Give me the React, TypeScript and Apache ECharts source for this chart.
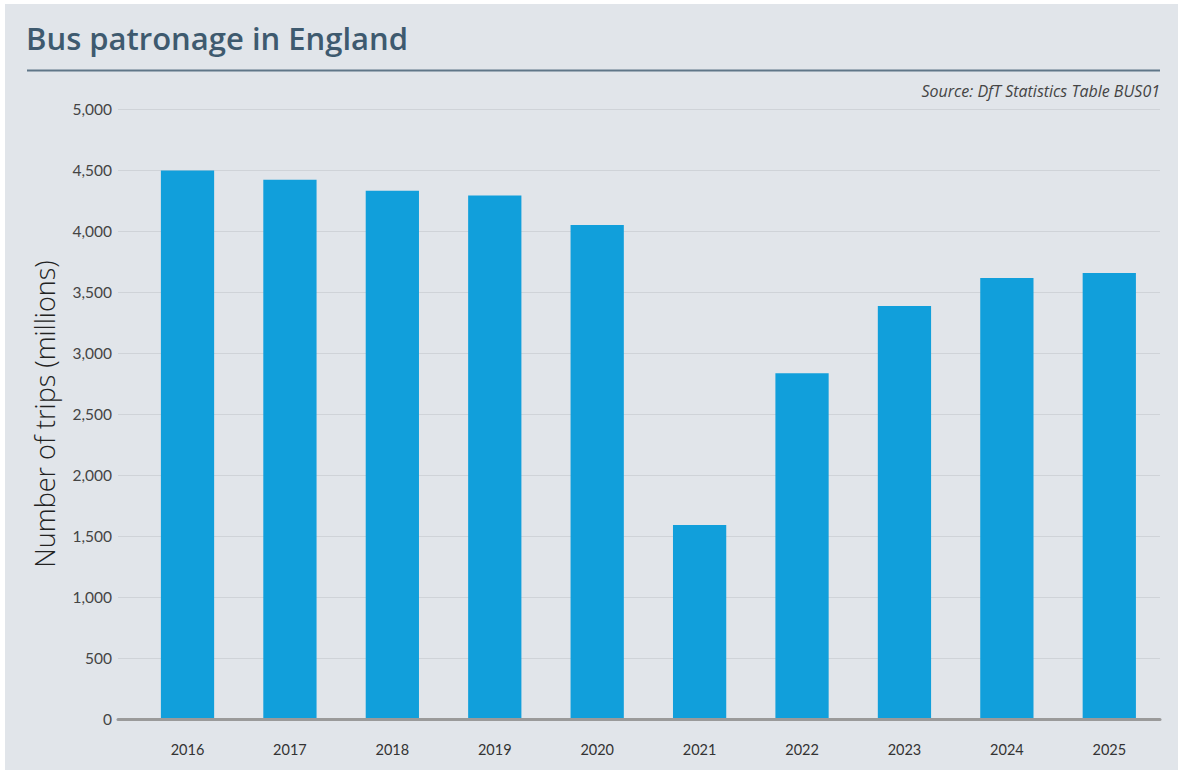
import React, { useEffect, useRef } from "react";
import * as echarts from "echarts";

const years = ["2016", "2017", "2018", "2019", "2020", "2021", "2022", "2023", "2024", "2025"];
const trips = [4495, 4420, 4330, 4290, 4050, 1590, 2835, 3385, 3615, 3655];
const yTicks = { min: 0, max: 5000, interval: 500 };

const TITLE = "Bus patronage in England";
const SOURCE = "Source: DfT Statistics Table BUS01";
const Y_NAME = "Number of trips (millions)";

export default function App() {
  const ref = useRef<HTMLDivElement>(null);
  useEffect(() => {
    if (!ref.current) return;
    const chart = echarts.init(ref.current, null, { renderer: "svg" });
    const font = "Lato, 'Open Sans', sans-serif";
    const wide = "'Open Sans', Lato, sans-serif";
    const gridTop = 109;
    const gridBottom = 773 - 719;
    chart.setOption({
      animation: false,
      backgroundColor: "#ffffff",
      textStyle: { fontFamily: font },
      graphic: [
        { type: "rect", z: -10, shape: { x: 5, y: 4, width: 1173, height: 766 }, style: { fill: "#e1e5ea" } },
        { type: "text", x: 26, y: 22, style: { text: TITLE, font: `600 31px ${wide}`, fill: "#3e5a6f" } },
        { type: "line", shape: { x1: 27, y1: 70.5, x2: 1160, y2: 70.5 }, style: { stroke: "#5f7688", lineWidth: 2 } },
        { type: "text", x: 1160, y: 83, style: { text: SOURCE, font: `italic 16px ${wide}`, fill: "#444444", align: "right" } },
      ],
      grid: [
        { left: 118, right: 29, top: gridTop, bottom: gridBottom },
        { left: 136.3, right: 28.5, top: gridTop, bottom: gridBottom },
      ],
      xAxis: [
        {
          gridIndex: 0,
          type: "category",
          data: years,
          axisLine: { show: true, lineStyle: { color: "#9a9a9a", width: 3 } },
          axisTick: { show: false },
          axisLabel: { show: false },
          splitLine: { show: false },
          z: 5,
        },
        {
          gridIndex: 1,
          type: "category",
          data: years,
          axisLine: { show: false },
          axisTick: { show: false },
          axisLabel: { color: "#333", fontSize: 14.5, margin: 23, fontFamily: font },
        },
      ],
      yAxis: [
        {
          gridIndex: 0,
          type: "value",
          min: yTicks.min,
          max: yTicks.max,
          interval: yTicks.interval,
          name: Y_NAME,
          nameLocation: "middle",
          nameGap: 60,
          nameTextStyle: { fontSize: 27, color: "#222", fontFamily: wide, fontWeight: 300 },
          axisLine: { show: false },
          axisTick: { show: false },
          axisLabel: {
            color: "#444",
            fontSize: 15.5,
            margin: 6,
            fontFamily: font,
            formatter: (v: number) => v.toLocaleString("en-GB"),
          },
          splitLine: { lineStyle: { color: "#cfd3d8", width: 1 } },
        },
        {
          gridIndex: 1,
          type: "value",
          min: yTicks.min,
          max: yTicks.max,
          interval: yTicks.interval,
          show: false,
          splitLine: { show: false },
        },
      ],
      series: [
        {
          type: "bar",
          xAxisIndex: 1,
          yAxisIndex: 1,
          data: trips,
          barWidth: "52%",
          itemStyle: { color: "#119fdb" },
          z: 2,
        },
      ],
    });
    return () => chart.dispose();
  }, []);
  return (
    <div
      ref={ref}
      style={{ position: "absolute", left: 0, top: 0, width: 1189, height: 773 }}
    />
  );
}
